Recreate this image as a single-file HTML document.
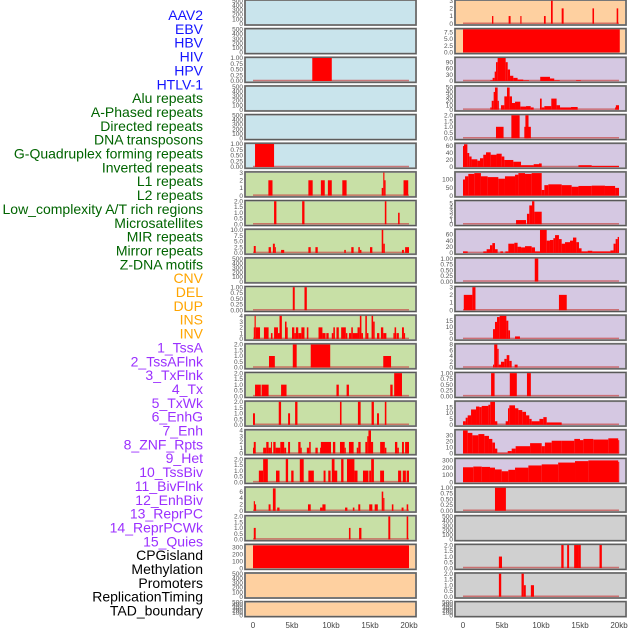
<!DOCTYPE html>
<html><head><meta charset="utf-8">
<style>
body{margin:0;width:630px;height:630px;background:#fff;overflow:hidden;font-family:"Liberation Sans",sans-serif;}
svg{position:absolute;left:0;top:0;}
</style></head>
<body>
<svg id="chart" width="630" height="630"></svg>
<script>
const rowLabels=["AAV2","EBV","HBV","HIV","HPV","HTLV-1","Alu repeats","A-Phased repeats","Directed repeats","DNA transposons","G-Quadruplex forming repeats","Inverted repeats","L1 repeats","L2 repeats","Low_complexity A/T rich regions","Microsatellites","MIR repeats","Mirror repeats","Z-DNA motifs","CNV","DEL","DUP","INS","INV","1_TssA","2_TssAFlnk","3_TxFlnk","4_Tx","5_TxWk","6_EnhG","7_Enh","8_ZNF_Rpts","9_Het","10_TssBiv","11_BivFlnk","12_EnhBiv","13_ReprPC","14_ReprPCWk","15_Quies","CPGisland","Methylation","Promoters","ReplicationTiming","TAD_boundary"];
const labelColors=["#1414ff","#1414ff","#1414ff","#1414ff","#1414ff","#1414ff","#006400","#006400","#006400","#006400","#006400","#006400","#006400","#006400","#006400","#006400","#006400","#006400","#006400","#ffa500","#ffa500","#ffa500","#ffa500","#ffa500","#9b30ff","#9b30ff","#9b30ff","#9b30ff","#9b30ff","#9b30ff","#9b30ff","#9b30ff","#9b30ff","#9b30ff","#9b30ff","#9b30ff","#9b30ff","#9b30ff","#9b30ff","#000","#000","#000","#000","#000"];
const xTickLabels=["0","5kb","10kb","15kb","20kb"];
const xTickValues=[0,5,10,15,20];
const T500=["0","100","200","300","400","500"], T1=["0.00","0.25","0.50","0.75","1.00"], T2=["0.0","0.5","1.0","1.5","2.0"];
const leftBg=["b","b","b","b","b","b","g","g","g","g","g","g","g","g","g","g","g","g","g","o","o","o"];
const rightBg=["o","o","p","p","p","p","p","p","p","p","p","p","p","p","p","p","p","y","y","y","y","y"];
const leftTicks=[T500,T500,T1,T500,T500,T1,["0","1","2","3"],T2,["0.0","2.5","5.0","7.5","10.0"],T500,T1,["0","1","2","3","4"],T2,T2,T2,["0","1","2","3","4"],T2,["0","2","4","6"],T2,["0","100","200","300"],T500,T500];
const leftMax=[500,500,1,500,500,1,3,2,10,500,1,4,2,2,2,4,2,7.2,2,335,500,500];
const leftSegs=[[],[],[[7.6,10.1,1]],[],[],[[0.26,2.7,1]],
[[1.97,2.5,2],[7.1,7.65,2],[8.7,9.2,2],[9.6,10.1,2],[11.45,12.0,2],[16.5,16.7,1],[16.7,16.85,3],[16.85,17.0,2],[19.3,19.9,2]],
[[2.7,3.0,2],[6.3,6.6,2],[16.9,17.1,2],[18.6,18.8,1]],
[[0.1,0.35,3],[2.0,2.3,2.5],[2.55,2.8,4],[2.8,2.9,2.5],[3.6,4.0,1.3],[7.1,7.4,2.5],[8.0,8.3,2.5],[11.7,11.9,1.3],[12.6,12.9,2.5],[13.5,13.7,2.5],[13.7,13.9,1.3],[15.0,15.3,2.5],[16.5,16.7,10],[16.7,16.9,4],[19.1,19.35,1.3],[19.5,20,2.5]],
[],
[[5.1,5.35,1],[6.6,6.9,1]],
[[0.1,0.2,2],[0.2,0.35,4],[0.35,0.9,2],[1.4,2.0,2],[2.3,2.5,1],[2.7,3.2,2],[3.2,3.4,1],[3.4,3.7,4],[4.1,4.3,3],[4.3,4.45,2],[5.0,5.3,2],[5.3,5.5,1],[5.5,5.8,2],[5.8,6.2,1],[6.2,6.6,2],[6.9,7.1,2],[8.4,8.9,2],[8.9,9.3,1],[9.4,9.7,1],[10.1,10.3,1],[10.3,10.5,2],[10.7,11.0,2],[11.3,11.9,2],[11.9,12.1,1],[12.3,12.6,1],[12.6,12.8,2],[12.8,13.4,1],[13.4,13.7,2],[13.7,13.9,4],[13.9,14.1,1],[14.4,14.6,4],[14.6,14.8,1],[15.2,15.4,4],[15.4,15.6,3],[15.9,16.2,1],[16.4,16.7,2],[16.7,17.1,1],[18.0,18.15,1],[18.15,18.35,2],[18.4,18.7,1],[19.1,19.35,2],[19.35,19.5,1]],
[[2.05,2.8,1],[5.1,5.6,2],[7.4,9.9,2],[16.7,17.7,1]],
[[0.26,1.0,1],[1.1,2.0,1],[3.6,4.3,1],[10.7,11.0,1],[12.0,12.3,1],[17.6,17.9,1],[18.1,19.1,2]],
[[0.0,0.25,1],[3.3,3.6,2],[4.5,4.75,1],[5.4,5.7,2],[11.15,11.35,2],[13.45,13.8,2],[15.2,15.5,2],[15.9,16.15,1],[16.9,17.1,2]],
[[0.0,0.1,1],[0.1,0.35,2],[1.3,1.7,1],[1.7,2.0,2],[2.0,2.3,1],[2.3,2.4,2],[2.6,2.9,2],[2.9,3.5,1],[3.5,4.0,2],[4.0,4.25,1],[4.5,4.75,2],[5.8,6.1,2],[6.1,6.25,1],[6.9,7.2,1],[7.2,7.4,2],[8.0,8.3,1],[8.6,8.7,1],[8.7,10.0,2],[10.25,10.55,2],[11.15,11.75,2],[11.75,11.9,1],[12.3,12.5,2],[12.5,12.9,2],[13.3,13.5,1],[13.5,13.8,2],[14.4,14.65,2],[14.65,14.8,3],[14.8,15.0,4],[15.0,15.1,4],[15.1,15.4,2],[16.3,16.9,2],[16.9,17.1,1],[18.2,18.5,2],[18.5,18.7,1],[19.1,19.35,2],[19.5,20,2]],
[[0.75,1.3,1],[1.3,1.9,2],[2.95,3.4,1],[4.2,4.5,2],[4.9,5.2,1],[6.0,6.5,2],[7.1,7.8,1],[9.05,9.3,1],[9.65,9.95,1],[10.1,10.45,2],[10.45,10.8,1],[11.3,11.6,2],[12.05,12.5,2],[12.5,13.0,2],[13.0,13.4,1],[14.1,14.8,1],[14.9,15.15,1],[15.15,15.5,2],[16.3,16.8,1],[18.6,19.0,1],[19.2,19.6,1],[19.7,20,1]],
[[0.1,0.25,3],[0.25,0.4,2],[2.0,2.25,2],[2.55,2.9,7],[3.1,3.4,1],[7.05,7.4,2],[8.6,8.9,1],[8.9,9.3,2],[11.8,12.1,1],[12.8,13.0,1],[13.5,13.75,2],[14.9,15.3,2],[15.6,16.0,2],[16.5,16.7,6],[16.7,16.85,4],[17.8,18.0,2],[19.05,19.3,1],[19.7,19.9,2]],
[[0.1,0.35,1],[12.3,12.5,1],[13.6,13.9,1],[17.35,17.6,2],[19.7,19.9,2]],
[[0,20,330]],[],[]];
const rightTicks=[["0","1","2","3"],["0.0","2.5","5.0","7.5"],["0","30","60","90"],["0","10","20","30","40","50"],T2,["0","20","40","60"],["0","50","100"],["0","1","2","3","4","5"],["0","20","40","60"],T1,["0","1","2","3"],["0","5","10","15"],["0","2","4","6","8"],T1,["0","5","10","15"],["0","10","20","30"],["0","100","200","300"],T1,T500,T2,T2,T500];
const rightMax=[3,8.5,110,52,2,66,143,5.5,75,1,3,19,8,1,19.5,38,318,1,500,2,2,500];
const rightSegs=[
[[3.72,3.89,1],[5.85,6.1,1],[7.35,7.5,1],[10.38,10.6,1],[11.28,11.5,3],[12.65,12.9,2],[16.6,16.8,2],[19.7,19.9,2]],
[[0,20.1,8.5]],
[[3.5,3.8,3],[3.8,4.06,15],[4.06,4.23,45],[4.23,4.44,90],[4.44,5.47,110],[5.47,5.73,90],[5.73,6.03,55],[6.03,6.45,25],[6.45,7.0,15],[7.0,7.73,7],[7.73,8.46,3],[9.9,11.15,20],[11.15,11.7,12],[11.7,12.4,3],[14.5,15.1,3]],
[[3.5,3.68,5],[3.68,3.93,20],[3.93,4.1,40],[4.1,4.44,50],[4.44,4.6,20],[4.87,5.3,10],[5.3,5.64,30],[5.64,5.98,50],[5.98,6.28,30],[6.28,6.67,15],[6.67,7.35,18],[7.35,8.08,7],[8.08,8.68,8],[8.68,9.06,5],[9.87,10.09,25],[10.09,10.43,5],[10.43,11.32,8],[11.32,12.0,25],[12.0,12.44,10],[12.44,13.85,5],[13.85,14.7,6],[19.5,19.6,5],[19.6,20,10]],
[[4.23,5.2,1],[6.2,7.26,2],[7.86,8.7,1],[8.0,8.4,2]],
[[0,0.13,60],[0.13,0.56,65],[0.56,0.8,40],[0.8,1.1,30],[1.1,1.84,22],[1.84,2.18,18],[2.18,2.6,25],[2.6,2.95,35],[2.95,3.55,42],[3.55,4.3,35],[4.3,4.96,38],[4.96,5.3,30],[5.3,6.45,20],[6.45,7.44,15],[7.44,9.06,5],[9.06,9.74,8],[9.74,10.09,10],[14.8,16.5,5],[16.5,20,3]],
[[0,0.26,100],[0.26,0.68,120],[0.68,1.45,135],[1.45,2.3,140],[2.3,3.16,120],[3.16,4.53,115],[4.53,5.38,105],[5.38,6.67,120],[6.67,7.1,130],[7.1,7.95,140],[7.95,8.8,135],[8.8,10.09,140],[10.09,10.43,35],[10.43,10.94,65],[10.94,12.65,70],[12.65,13.93,65],[13.93,14.8,55],[14.8,16.5,60],[16.5,18.2,62],[18.2,19.5,60],[19.5,20,48]],
[[6.8,8.08,1],[8.2,8.5,2.5],[8.5,8.85,4.5],[8.85,9.15,5.5],[9.15,10.09,3]],
[[0,0.6,5],[2.6,3.03,5],[3.03,3.46,12],[3.46,3.76,25],[3.76,4.1,32],[4.1,4.44,12],[4.79,5.13,5],[5.43,5.81,5],[5.81,6.58,30],[6.58,7.0,33],[7.0,7.44,20],[7.44,7.95,18],[7.95,8.8,22],[8.8,9.23,18],[9.23,9.87,5],[9.87,10.73,75],[10.73,11.15,40],[11.15,11.58,42],[11.58,11.8,48],[11.8,12.3,58],[12.3,12.65,45],[12.65,13.08,30],[13.08,13.72,35],[13.72,14.1,40],[14.1,14.53,50],[14.53,14.87,35],[14.87,15.2,15],[15.2,15.98,5],[15.98,16.58,7],[16.58,18.9,5],[18.9,19.3,8],[19.3,19.57,30],[19.57,19.83,45],[19.83,20,52]],
[[9.2,9.65,1]],
[[0.1,1.2,2],[1.2,1.6,3],[12.3,13.3,2]],
[[3.85,4.1,8],[4.1,4.36,14],[4.36,4.7,18],[4.7,5.56,19],[5.56,5.81,15],[5.81,6.03,7],[6.67,7.3,2]],
[[3.85,4.0,1],[4.0,4.4,8],[4.4,4.57,6.5],[4.57,4.87,1],[4.87,5.3,2],[5.3,5.6,3],[5.6,5.94,4.3],[5.94,6.24,2.3],[6.62,7.0,1]],
[[3.6,4.05,1],[6.0,6.9,1],[8.2,8.7,1]],
[[0,0.34,3],[0.34,0.6,6],[0.6,1.03,8],[1.03,1.67,13],[1.67,2.1,15.5],[2.1,2.4,15],[2.4,3.25,16],[3.25,3.5,17],[3.5,4.1,19.5],[4.1,4.4,3],[5.47,5.77,3],[5.77,5.94,14],[5.94,6.67,16.5],[6.67,7.1,14],[7.1,7.6,12.5],[7.6,8.08,11],[8.08,8.5,8],[8.5,8.8,5],[8.8,9.8,3],[9.8,10.3,5],[10.3,10.73,6.5],[10.73,12.65,2]],
[[0,0.6,38],[0.6,1.2,34],[1.2,1.97,30],[1.97,2.74,32],[2.74,3.33,29],[3.33,3.76,24],[3.76,4.1,18],[4.1,4.4,8],[4.4,5.73,1],[5.73,6.24,4],[6.24,6.75,8],[6.75,8.6,12],[8.6,10.09,17],[10.09,10.5,12],[10.5,11.37,18],[11.37,12.65,21],[12.65,14.27,21],[14.27,15,24],[15,15.43,22],[15.43,16.7,24],[16.7,18.63,23],[18.63,19.9,25],[19.9,20,22]],
[[0,1.32,205],[1.32,2.4,215],[2.4,3.46,210],[3.46,4.1,200],[4.1,4.96,175],[4.96,5.81,150],[5.81,6.67,170],[6.67,8.38,200],[8.38,10.09,230],[10.09,12.2,245],[12.2,14.36,270],[14.36,16.07,290],[16.07,19.9,300],[19.9,20,280]],
[[4.1,5.5,1]],[],
[[4.6,5.0,1],[12.6,12.9,2],[13.35,13.6,2],[14.25,14.8,2],[14.8,15.1,2],[17.5,17.8,2]],
[[4.6,4.9,2],[7.5,7.8,2],[7.8,8.05,1],[8.7,9.1,1]],[]];

const NS="http://www.w3.org/2000/svg";
const svg=document.getElementById("chart");
const bgColors={b:"#c9e4ec",g:"#c8e0a6",o:"#fed0a0",p:"#d5c8e2",y:"#d0d0d0"};
function mk(tag,attrs,parent){const e=document.createElementNS(NS,tag);for(const k in attrs)e.setAttribute(k,attrs[k]);(parent||svg).appendChild(e);return e;}
const ROWTOP=0,PITCH=28.65;
function rowTop(i){return ROWTOP+i*PITCH;}
function rowH(i){return i===21?15:25;}

// labels
rowLabels.forEach((t,i)=>{
  const e=mk("text",{x:203,y:20+i*13.85,"text-anchor":"end","font-size":"14",fill:labelColors[i]});
  e.textContent=t;
  
  
});

function drawPanel(col,i,bg,ticks,ymax,segs){
  const px=col===0?245:455, x0=col===0?253:463, W=171;
  const T=rowTop(i), H=rowH(i);
  const xs=kb=>x0+kb*7.8;
  const base=T+H-1.3, span=H-2;
  const ys=v=>base-v/ymax*span;
  const g=mk("g",{});
  
  
  mk("rect",{x:px,y:T,width:W,height:H,fill:bgColors[bg],stroke:"#9a9a9a","stroke-width":"2"},g);
  mk("rect",{x:px,y:T,width:W,height:H,fill:"none",stroke:"#555","stroke-width":"1"},g);
  ticks.forEach((t,k)=>{
    const v=parseFloat(t);
    const e=mk("text",{x:px-2,y:ys(v)+2.2,"text-anchor":"end","font-size":"6.5",fill:"#555"},g);
    e.textContent=t;
    
    
  });
  if(segs.length){
    const bl=mk("line",{x1:xs(0),x2:xs(20),y1:base-0.5,y2:base-0.5,stroke:"#c84848","stroke-width":"1.5","stroke-opacity":"0.7"},g);
    
    
  }
  segs.forEach(s=>{
    const y=Math.max(ys(s[2]),T+0.5);
    const r=mk("rect",{x:xs(s[0]),y:y,width:Math.max(xs(s[1])-xs(s[0]),1),height:base-y,fill:"#ff0000"},g);
    
    
  });
}
for(let i=0;i<22;i++){
  drawPanel(0,i,leftBg[i],leftTicks[i],leftMax[i],leftSegs[i]);
  drawPanel(1,i,rightBg[i],rightTicks[i],rightMax[i],rightSegs[i]);
}
[253,463].forEach((x0,c)=>{
  xTickValues.forEach((v,k)=>{
    const e=mk("text",{x:x0+v*7.8,y:628,"text-anchor":"middle","font-size":"8",fill:"#444"});
    e.textContent=xTickLabels[k];
    
    
  });
});
</script>
</body></html>
